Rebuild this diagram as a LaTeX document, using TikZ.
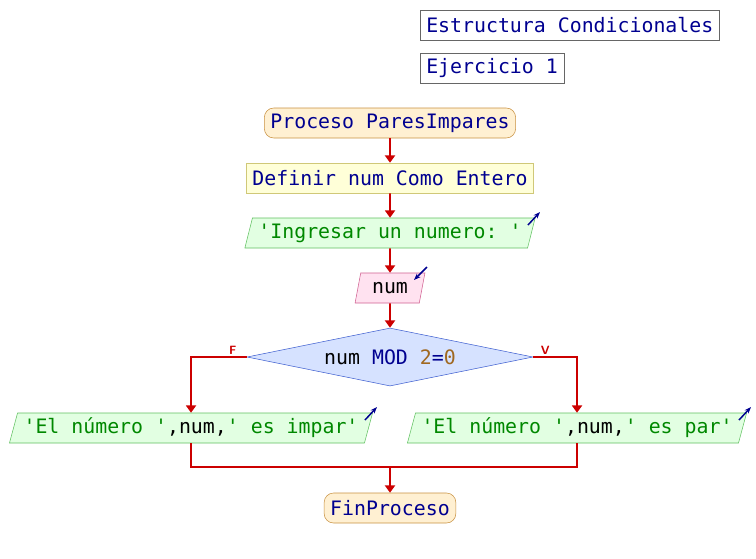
\documentclass[tikz,border=0pt]{standalone}
\usepackage{fontspec}
\setmonofont{DejaVu Sans Mono}
\usetikzlibrary{shapes.geometric,arrows.meta}
\definecolor{kw}{HTML}{000090}
\definecolor{strgreen}{HTML}{008800}
\definecolor{numbrown}{HTML}{A06820}
\definecolor{flowred}{HTML}{CC0000}
\definecolor{procfill}{HTML}{FFF0D2}
\definecolor{procline}{HTML}{C89040}
\definecolor{deffill}{HTML}{FFFFD8}
\definecolor{defline}{HTML}{D0C878}
\definecolor{outfill}{HTML}{E2FFE2}
\definecolor{outline}{HTML}{60C060}
\definecolor{infill}{HTML}{FFE2F0}
\definecolor{inline}{HTML}{D06090}
\definecolor{condfill}{HTML}{D6E2FF}
\definecolor{condline}{HTML}{4060D0}
\begin{document}
\begin{tikzpicture}[x=0.75pt,y=-0.75pt,>={Triangle[width=7.5pt,length=5.5pt]},
  font=\ttfamily\fontsize{14.9}{17}\selectfont,
  box/.style={draw,minimum height=22.5pt,inner xsep=4.5pt,inner ysep=0pt,text=kw},
  proc/.style={box,rounded corners=7pt,fill=procfill,draw=procline},
  defbox/.style={box,fill=deffill,draw=defline},
  para/.style={box,trapezium,trapezium left angle=68,trapezium right angle=112,trapezium stretches=true},
  outbox/.style={para,fill=outfill,draw=outline,text=black},
  inbox/.style={para,fill=infill,draw=inline,text=black,minimum width=52.5pt},
  condbox/.style={diamond,aspect=4.9,draw=condline,fill=condfill,inner sep=0pt,minimum width=214.5pt,minimum height=43.5pt,text=black},
  titlebox/.style={box,draw=black!60,anchor=west},
  flow/.style={->,draw=flowred,line width=1.4pt},
  joinline/.style={draw=flowred,line width=1.4pt},
  rw/.style={-{Stealth[length=5pt]},draw=kw,line width=1.1pt},
  lbl/.style={text=flowred,font=\sffamily\bfseries\fontsize{9}{10}\selectfont,inner sep=1pt}]
  \useasboundingbox (0,0) rectangle (756,558);
  \node[titlebox] (tit1) at (420,25) {Estructura Condicionales};
  \node[titlebox] (tit2) at (420,68) {Ejercicio 1};
  \node[proc] (inicio) at (390,123) {Proceso ParesImpares};
  \node[defbox] (def) at (390,178) {Definir num Como Entero};
  \node[outbox] (pide) at (390,233) {\color{strgreen}'Ingresar un numero: '};
  \node[inbox] (lee) at (390,288) {num};
  \node[condbox] (cond) at (390,357) {num {\color{kw}MOD} {\color{numbrown}2}{\color{kw}=}{\color{numbrown}0}};
  \node[outbox] (impar) at (191,428) {{\color{strgreen}'El número '},num,{\color{strgreen}' es impar'}};
  \node[outbox] (par) at (577,428) {{\color{strgreen}'El número '},num,{\color{strgreen}' es par'}};
  \node[proc] (fin) at (390,508) {FinProceso};
  \coordinate (junta) at (390,467);
  % flechas
  \draw[flow] (inicio) -- (def);
  \draw[flow] (def) -- (pide);
  \draw[flow] (pide) -- (lee);
  \draw[flow] (lee) -- (cond);
  \draw[flow] (cond.west) node[lbl,above left,xshift=-6pt]{F} -| (impar.north);
  \draw[flow] (cond.east) node[lbl,above right,xshift=4pt]{V} -| (par.north);
  \draw[joinline] (impar.south) |- (junta) -| (par.south);
  \draw[flow] (junta) -- (fin);
  % iconos de escritura / lectura
  \draw[rw] ([shift={(138,-8)}]pide.center) -- ++(12,-13);
  \draw[rw] ([shift={(174,-8)}]impar.center) -- ++(12,-13);
  \draw[rw] ([shift={(162,-8)}]par.center) -- ++(12,-13);
  \draw[rw] ([shift={(37,-21)}]lee.center) -- ++(-13,13);
\end{tikzpicture}
\end{document}
